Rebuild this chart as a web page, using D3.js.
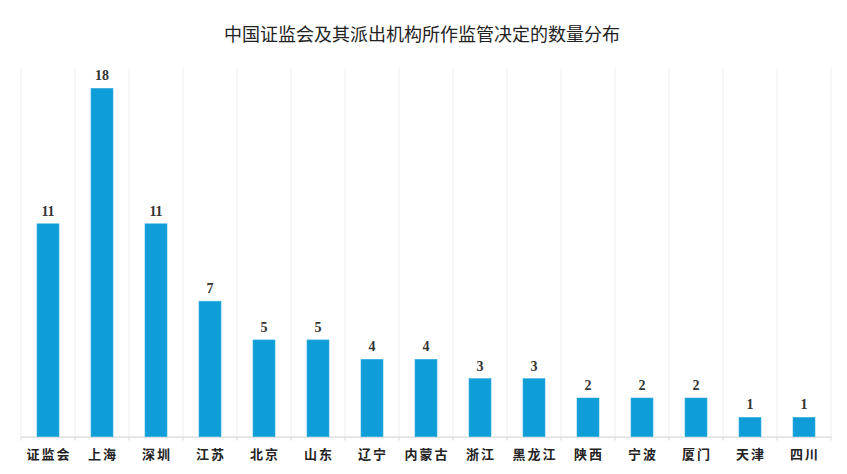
<!DOCTYPE html>
<html><head><meta charset="utf-8">
<script src="https://cdn.jsdelivr.net/npm/d3@7"></script>
<style>body{margin:0;background:#fff}</style>
</head><body>
<svg id="c" width="847" height="474"></svg>
<script>
const categories = ["证监会","上海","深圳","江苏","北京","山东","辽宁","内蒙古","浙江","黑龙江","陕西","宁波","厦门","天津","四川"];
const values = [11,18,11,7,5,5,4,4,3,3,2,2,2,1,1];
const title = "中国证监会及其派出机构所作监管决定的数量分布";

const svg = d3.select("#c");
const mLeft = 21, mRight = 831, mTop = 68, mBottom = 436.7;
const x = d3.scaleBand().domain(categories).range([mLeft, mRight]).paddingInner(0).paddingOuter(0);
const y = d3.scaleLinear().domain([0, 19.05]).range([mBottom, mTop]);

svg.append("text").attr("x", 422).attr("y", 41).attr("text-anchor","middle")
  .attr("font-family","'Noto Sans CJK SC', sans-serif").attr("font-size",18).attr("fill","#222")
  .text(title);

// vertical gridlines
const bounds = categories.map(c => x(c)).concat([mRight]);
svg.append("g").selectAll("line").data(bounds).join("line")
  .attr("x1", d=>d).attr("x2", d=>d).attr("y1", mTop).attr("y2", mBottom)
  .attr("stroke","#eeeeee").attr("stroke-width",1);

// axis
const ax = svg.append("g").attr("transform",`translate(0,${mBottom})`)
  .call(d3.axisBottom(x).tickSize(0).tickFormat(""));
ax.select(".domain").attr("stroke","#d9d9d9").attr("stroke-width",1.2);
svg.append("g").selectAll("line").data(bounds).join("line")
  .attr("x1", d=>d).attr("x2", d=>d).attr("y1", mBottom).attr("y2", mBottom+4)
  .attr("stroke","#d9d9d9");

const bw = 22;
svg.append("g").selectAll("rect").data(values).join("rect")
  .attr("x", (d,i)=> x(categories[i]) + x.bandwidth()/2 - bw/2)
  .attr("y", d=> y(d)).attr("width", bw).attr("height", d=> mBottom - y(d))
  .attr("fill","#0e9dd6").attr("stroke","#3ab0e0").attr("stroke-width",0.6);

svg.append("g").selectAll("text").data(values).join("text")
  .attr("x", (d,i)=> x(categories[i]) + x.bandwidth()/2)
  .attr("y", d=> y(d) - 8).attr("text-anchor","middle")
  .attr("font-family","'Liberation Serif', 'DejaVu Serif', serif").attr("font-weight","bold")
  .attr("font-size",14).attr("fill","#333").text(d=>d);

svg.append("g").selectAll("text").data(categories).join("text")
  .attr("x", c=> x(c) + x.bandwidth()/2 + 1)
  .attr("y", 459).attr("text-anchor","middle")
  .attr("font-family","'Noto Sans CJK SC', sans-serif").attr("font-weight","bold")
  .attr("font-size",13).attr("letter-spacing","2px").attr("fill","#222").text(c=>c);
</script>
</body></html>
